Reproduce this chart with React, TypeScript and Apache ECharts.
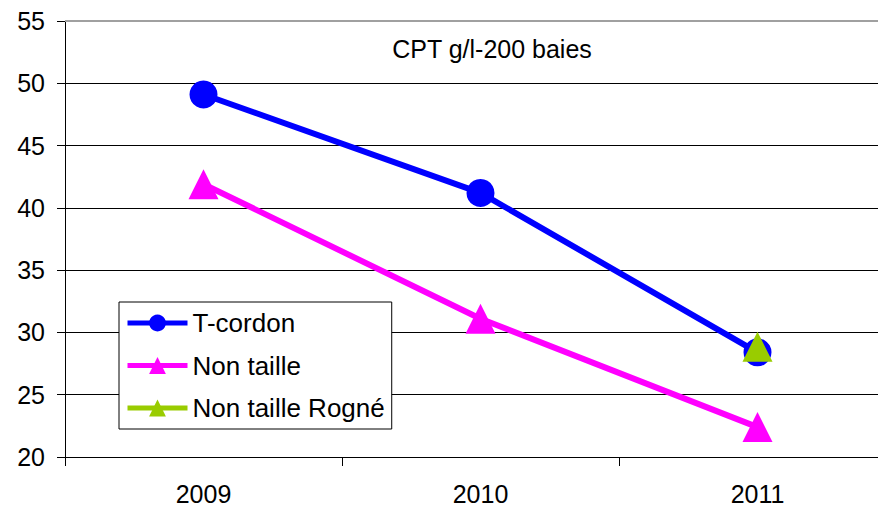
import React, { useEffect, useRef } from "react";
import * as echarts from "echarts";

const categories = ["2009", "2010", "2011"];
const tCordon = [49.1, 41.2, 28.4];
const nonTaille = [41.9, 31.1, 22.4];
const nonTailleRogne = [null, null, 28.85];
const yMin = 20;
const yMax = 55;
const yStep = 5;
const titleText = "CPT g/l-200 baies";

const FONT = "'Liberation Sans', Arial, sans-serif";

export default function App() {
  const ref = useRef<HTMLDivElement>(null);
  useEffect(() => {
    if (!ref.current) return;
    const chart = echarts.init(ref.current, undefined, { renderer: "svg" });
    chart.setOption({
      animation: false,
      backgroundColor: "#ffffff",
      textStyle: { fontFamily: FONT },
      title: {
        text: titleText,
        left: 487,
        top: 31,
        textAlign: "center",
        textStyle: { fontFamily: FONT, fontSize: 25, fontWeight: "normal", color: "#000" },
      },
      grid: { left: 65, top: 21, width: 831, height: 436, containLabel: false },
      legend: {
        orient: "vertical",
        left: 119,
        top: 302,
        padding: [8, 7, 8, 6],
        itemWidth: 60,
        itemHeight: 21,
        itemGap: 16.5,
        backgroundColor: "#ffffff",
        borderColor: "#000000",
        borderWidth: 1,
        lineStyle: { width: 5 },
        textStyle: { fontFamily: FONT, fontSize: 26, color: "#000", lineHeight: 26 },
        data: ["T-cordon", "Non taille", "Non taille Rogné"],
      },
      xAxis: {
        type: "category",
        data: categories,
        boundaryGap: true,
        axisLine: { lineStyle: { color: "#000", width: 1 } },
        axisTick: { show: true, length: 9, inside: false, alignWithLabel: false, lineStyle: { color: "#000" } },
        axisLabel: { fontFamily: FONT, fontSize: 25, color: "#000", margin: 24 },
        splitLine: { show: false },
      },
      yAxis: {
        type: "value",
        min: yMin,
        max: yMax,
        interval: yStep,
        axisLine: { show: true, lineStyle: { color: "#000", width: 1 } },
        axisTick: { show: true, length: 8, lineStyle: { color: "#000" } },
        axisLabel: { fontFamily: FONT, fontSize: 25, color: "#000", margin: 20 },
        splitLine: { show: true, lineStyle: { color: "#000", width: 1 } },
      },
      graphic: [
        {
          type: "line",
          shape: { x1: 65, y1: 21, x2: 900, y2: 21 },
          style: { stroke: "#a0a0a0", lineWidth: 2 },
          z: 10,
        },
      ],
      series: [
        {
          name: "T-cordon",
          type: "line",
          data: tCordon,
          color: "#0000ff",
          symbol: "circle",
          symbolSize: 28,
          lineStyle: { width: 6, color: "#0000ff" },
          itemStyle: { color: "#0000ff" },
          z: 3,
        },
        {
          name: "Non taille",
          type: "line",
          data: nonTaille,
          color: "#ff00ff",
          symbol: "triangle",
          symbolSize: 30,
          lineStyle: { width: 6, color: "#ff00ff" },
          itemStyle: { color: "#ff00ff" },
          z: 3,
        },
        {
          name: "Non taille Rogné",
          type: "line",
          data: nonTailleRogne,
          color: "#99cc00",
          symbol: "triangle",
          symbolSize: 30,
          lineStyle: { width: 6, color: "#99cc00" },
          itemStyle: { color: "#99cc00" },
          z: 4,
        },
      ],
    });
    return () => chart.dispose();
  }, []);
  return (
    <div style={{ position: "absolute", left: 0, top: 0, width: 878, height: 507, overflow: "hidden" }}>
      <div ref={ref} style={{ width: 900, height: 507 }} />
    </div>
  );
}
